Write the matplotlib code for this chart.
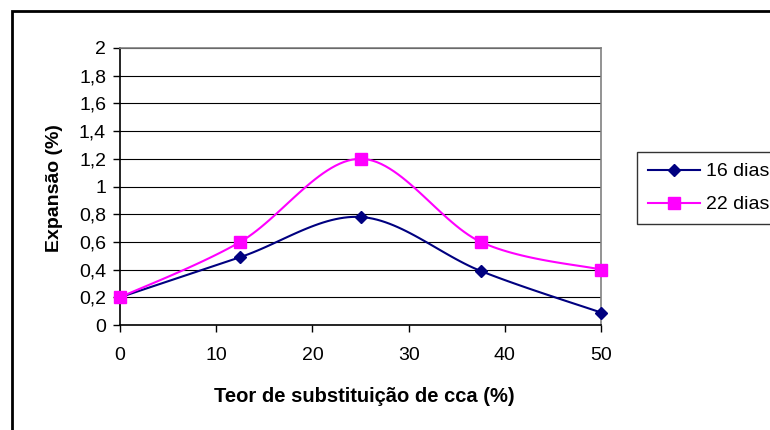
import matplotlib.pyplot as plt
import numpy as np
from matplotlib.patches import Rectangle

plt.rcParams['font.family'] = ['Liberation Sans', 'DejaVu Sans']

# Dados
teor = [0, 12.5, 25, 37.5, 50]
dias16 = [0.2, 0.49, 0.78, 0.39, 0.09]
dias22 = [0.2, 0.60, 1.20, 0.60, 0.40]
yticks = [0, 0.2, 0.4, 0.6, 0.8, 1, 1.2, 1.4, 1.6, 1.8, 2]
ytick_labels = ['0', '0,2', '0,4', '0,6', '0,8', '1', '1,2', '1,4', '1,6', '1,8', '2']
xticks = [0, 10, 20, 30, 40, 50]


# Linha suavizada estilo Excel (Bezier com pontos de controle Catmull-Rom)
def suaviza(x, y, n=30):
    p = np.column_stack([x, y]).astype(float)
    p = np.vstack([p[0], p, p[-1]])
    out = []
    for i in range(1, len(p) - 2):
        p0, p1 = p[i], p[i + 1]
        c1 = p0 + (p[i + 1] - p[i - 1]) / 6
        c2 = p1 - (p[i + 2] - p[i]) / 6
        t = np.linspace(0, 1, n)[:, None]
        seg = ((1 - t)**3 * p0 + 3 * (1 - t)**2 * t * c1
               + 3 * (1 - t) * t**2 * c2 + t**3 * p1)
        out.append(seg if i == 1 else seg[1:])
    out = np.vstack(out)
    return out[:, 0], out[:, 1]


fig = plt.figure(figsize=(7.7, 4.3), dpi=100)
ax = fig.add_axes([120 / 770, 1 - 325 / 430, 481 / 770, 277 / 430])

# Moldura externa do grafico
fig.patches.append(Rectangle((12 / 770, -0.1), 1.2, 1 - 11 / 430 + 0.1,
                             transform=fig.transFigure, fill=False,
                             edgecolor='black', linewidth=2))

for yv, cor, mk, ms, nome in [(dias16, '#000080', 'D', 6.5, '16 dias'),
                              (dias22, '#FF00FF', 's', 8, '22 dias')]:
    sx, sy = suaviza(teor, yv)
    ax.plot(sx, sy, color=cor, linewidth=1.5, zorder=3, clip_on=False)
    ax.plot(teor, yv, linestyle='none', marker=mk, markersize=ms,
            color=cor, zorder=4, clip_on=False)
    ax.plot([], [], color=cor, linewidth=1.5, marker=mk, markersize=ms,
            label=nome)

ax.set_xlim(0, 50)
ax.set_ylim(0, 2)
ax.set_xticks(xticks)
ax.set_yticks(yticks)
ax.set_yticklabels(ytick_labels)
ax.tick_params(axis='both', labelsize=14, direction='out', length=5,
               width=1, color='black')
ax.tick_params(axis='y', pad=5)
ax.tick_params(axis='x', pad=11)
ax.grid(axis='y', color='black', linewidth=0.8)
ax.set_axisbelow(True)
ax.spines['left'].set_color('black')
ax.spines['bottom'].set_color('black')
ax.spines['top'].set_color('#808080')
ax.spines['right'].set_color('#808080')
for s in ax.spines.values():
    s.set_linewidth(1.2)

ax.set_xlabel('Teor de substituição de cca (%)', fontsize=14.5,
              fontweight='bold')
ax.xaxis.set_label_coords(0.507, -0.225)
ax.set_ylabel('Expansão (%)', fontsize=14, fontweight='bold')
ax.yaxis.set_label_coords(-0.118, 0.493)

leg = fig.legend(loc='upper left', bbox_to_anchor=(637 / 770, 1 - 152 / 430),
                 borderaxespad=0, fontsize=14, handlelength=2.7,
                 frameon=True, fancybox=False, edgecolor='black',
                 borderpad=0.55, labelspacing=0.8, handletextpad=0.3)
leg.get_frame().set_linewidth(1)

fig.savefig('out.png', dpi=100)
